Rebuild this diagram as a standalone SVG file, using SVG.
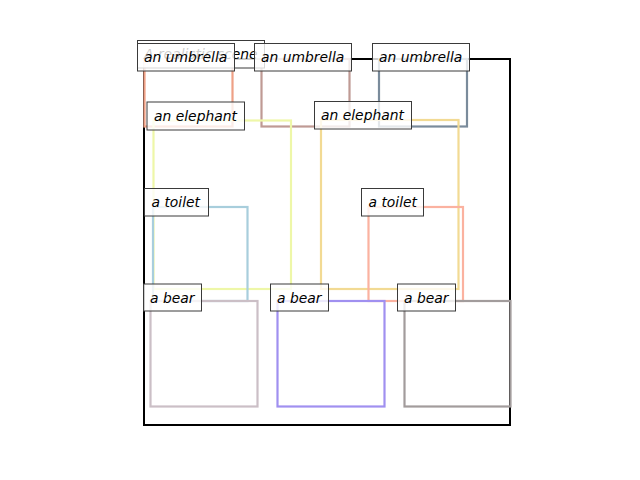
<svg xmlns="http://www.w3.org/2000/svg" width="640" height="480" viewBox="0 0 640 480">
<style>
.frame{fill:none;stroke:#000;stroke-width:2}
.bb{fill:none;stroke-width:2.2}
.lb rect{fill:#fff;fill-opacity:0.8;stroke:#3a3a3a;stroke-width:1}
.lb text{font-family:"DejaVu Sans",sans-serif;font-style:italic;font-size:13.89px;fill:#000}
</style>
<rect width="640" height="480" fill="#fff"/>
<g id="frame"><rect class="frame" x="144" y="59" width="366" height="366"/></g>
<g id="boxes">
<rect id="umbrella1" class="bb" stroke="#eea086" x="144.5" y="59" width="88" height="67.5"/>
<rect id="umbrella2" class="bb" stroke="#bf9a94" x="261.5" y="59" width="88" height="67.5"/>
<rect id="umbrella3" class="bb" stroke="#7a8b9b" x="379" y="59" width="88" height="67.5"/>
<rect id="elephant1" class="bb" stroke="#eef7a8" x="153.5" y="120.5" width="137.5" height="168.5"/>
<rect id="elephant2" class="bb" stroke="#f2da93" x="321" y="120" width="137.5" height="169"/>
<rect id="toilet1" class="bb" stroke="#a8cedc" x="153" y="207" width="94.5" height="94"/>
<rect id="toilet2" class="bb" stroke="#fbb2a0" x="368.5" y="207" width="94.5" height="94"/>
<rect id="bear1" class="bb" stroke="#cbbfc6" x="150.5" y="301" width="107" height="105.5"/>
<rect id="bear2" class="bb" stroke="#a090f0" x="277.5" y="301" width="107" height="105.5"/>
<rect id="bear3" class="bb" stroke="#a29c9c" x="404.5" y="301" width="106" height="105.5"/>
</g>
<g id="title" class="lb"><rect x="137.5" y="40.5" width="127" height="27.5"/><text x="144" y="59">A realistic scene</text></g>
<g id="label-umbrella1" class="lb"><rect x="137.5" y="43.5" width="97" height="27.5"/><text x="144" y="62">an umbrella</text></g>
<g id="label-umbrella2" class="lb"><rect x="254.5" y="43.5" width="97" height="27.5"/><text x="261" y="62">an umbrella</text></g>
<g id="label-umbrella3" class="lb"><rect x="372.5" y="43.5" width="97" height="27.5"/><text x="379" y="62">an umbrella</text></g>
<g id="label-elephant1" class="lb"><rect x="147" y="102" width="97.5" height="28"/><text x="154" y="120.5">an elephant</text></g>
<g id="label-elephant2" class="lb"><rect x="314.5" y="101.5" width="97" height="27.5"/><text x="321" y="120">an elephant</text></g>
<g id="label-toilet1" class="lb"><rect x="144.5" y="188.5" width="64" height="27.5"/><text x="151.5" y="207">a toilet</text></g>
<g id="label-toilet2" class="lb"><rect x="361.5" y="188.5" width="62" height="27.5"/><text x="368.5" y="207">a toilet</text></g>
<g id="label-bear1" class="lb"><rect x="143.5" y="284" width="58" height="27"/><text x="150" y="302.5">a bear</text></g>
<g id="label-bear2" class="lb"><rect x="270.5" y="284" width="58" height="27"/><text x="277" y="302.5">a bear</text></g>
<g id="label-bear3" class="lb"><rect x="397.5" y="284" width="58" height="27"/><text x="404" y="302.5">a bear</text></g>
</svg>
